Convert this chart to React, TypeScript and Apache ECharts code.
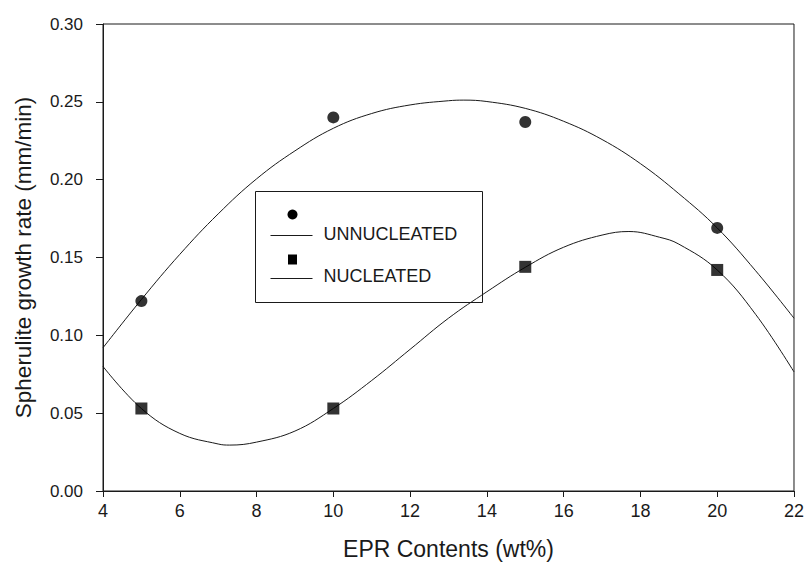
import React, { useEffect, useRef } from "react";
import * as echarts from "echarts";

// Measured points
const pointX = [5, 10, 15, 20];
const unnucleatedPts = [0.122, 0.240, 0.237, 0.169];
const nucleatedPts = [0.053, 0.053, 0.144, 0.142];

// Fitted curves (including each curve's turning point)
const unnucleatedCurveX = [4, 5, 6, 7, 8, 9, 10, 11, 12, 13, 13.4, 14, 15, 16, 17, 18, 19, 20, 21, 22];
const unnucleatedCurveY = [0.092, 0.123, 0.152, 0.178, 0.2005, 0.2185, 0.233, 0.2425, 0.248, 0.2507, 0.2511, 0.2502, 0.2458, 0.2375, 0.2258, 0.2103, 0.191, 0.169, 0.1415, 0.111];
const nucleatedCurveX = [4, 5, 6, 7, 7.3, 8, 9, 10, 11, 12, 13, 14, 15, 16, 17, 17.7, 18.5, 19, 20, 21, 22];
const nucleatedCurveY = [0.080, 0.053, 0.037, 0.0302, 0.0295, 0.0314, 0.0385, 0.053, 0.071, 0.091, 0.111, 0.128, 0.1437, 0.1566, 0.1644, 0.1667, 0.1630, 0.1586, 0.142, 0.1135, 0.0765];

const legendNames = ["UNNUCLEATED", "NUCLEATED"];
const xTitle = "EPR Contents (wt%)";
const yTitle = "Spherulite growth rate (mm/min)";

const FONT = "'Liberation Sans', Arial, sans-serif";
const INK = "#1a1a1a";

export default function App() {
  const ref = useRef<HTMLDivElement>(null);
  useEffect(() => {
    if (!ref.current) return;
    const chart = echarts.init(ref.current, null, { renderer: "svg" });
    const zip = (xs: number[], ys: number[]) => xs.map((x, i) => [x, ys[i]]);
    chart.setOption({
      animation: false,
      backgroundColor: "#ffffff",
      textStyle: { fontFamily: FONT, color: INK },
      grid: {
        left: 103,
        right: 9,
        top: 24,
        bottom: 70,
        show: true,
        borderColor: INK,
        borderWidth: 1,
        backgroundColor: "transparent",
      },
      xAxis: {
        type: "value",
        min: 4,
        max: 22,
        interval: 2,
        name: xTitle,
        nameLocation: "middle",
        nameGap: 46,
        nameTextStyle: { fontSize: 23, color: INK, fontFamily: FONT },
        axisLine: { show: true, lineStyle: { color: INK, width: 1 } },
        axisTick: { show: true, length: 6, lineStyle: { color: INK } },
        axisLabel: { fontSize: 18, color: INK, margin: 11, fontFamily: FONT },
        splitLine: { show: false },
      },
      yAxis: {
        type: "value",
        min: 0,
        max: 0.3,
        interval: 0.05,
        name: yTitle,
        nameLocation: "middle",
        nameGap: 68,
        nameTextStyle: { fontSize: 22.5, color: INK, fontFamily: FONT },
        axisLine: { show: true, lineStyle: { color: INK, width: 1 } },
        axisTick: { show: true, length: 7, lineStyle: { color: INK } },
        axisLabel: {
          fontSize: 17,
          color: INK,
          margin: 20,
          fontFamily: FONT,
          formatter: (v: number) => v.toFixed(2),
        },
        splitLine: { show: false },
      },
      series: [
        {
          name: legendNames[0] + " fit",
          type: "line",
          data: zip(unnucleatedCurveX, unnucleatedCurveY),
          smooth: 0.4,
          showSymbol: false,
          lineStyle: { color: INK, width: 1 },
          z: 2,
        },
        {
          name: legendNames[1] + " fit",
          type: "line",
          data: zip(nucleatedCurveX, nucleatedCurveY),
          smooth: 0.4,
          showSymbol: false,
          lineStyle: { color: INK, width: 1 },
          z: 2,
        },
        {
          name: legendNames[0],
          type: "scatter",
          data: zip(pointX, unnucleatedPts),
          symbol: "circle",
          symbolSize: 12,
          itemStyle: { color: "#000" },
          z: 3,
        },
        {
          name: legendNames[1],
          type: "scatter",
          data: zip(pointX, nucleatedPts),
          symbol: "rect",
          symbolSize: 12,
          itemStyle: { color: "#000" },
          z: 3,
        },
      ],
      graphic: [
        {
          type: "group",
          left: 255,
          top: 191,
          z: 10,
          children: [
            {
              type: "rect",
              shape: { x: 0, y: 0, width: 227, height: 111 },
              style: { fill: "#fff", stroke: INK, lineWidth: 1 },
            },
            { type: "circle", shape: { cx: 37, cy: 23, r: 5 }, style: { fill: "#000" } },
            { type: "line", shape: { x1: 15, y1: 44, x2: 57, y2: 44 }, style: { stroke: INK, lineWidth: 1 } },
            {
              type: "text",
              x: 68,
              y: 42.5,
              style: { text: legendNames[0], font: `18px ${FONT}`, fill: INK, verticalAlign: "middle" },
            },
            { type: "rect", shape: { x: 32.5, y: 63, width: 9, height: 10 }, style: { fill: "#000" } },
            { type: "line", shape: { x1: 15, y1: 87, x2: 57, y2: 87 }, style: { stroke: INK, lineWidth: 1 } },
            {
              type: "text",
              x: 68,
              y: 84,
              style: { text: legendNames[1], font: `18px ${FONT}`, fill: INK, verticalAlign: "middle" },
            },
          ],
        },
      ],
    });
    return () => chart.dispose();
  }, []);
  return (
    <div
      ref={ref}
      style={{ position: "fixed", left: 0, top: 0, width: 807, height: 565, overflow: "hidden" }}
    />
  );
}
